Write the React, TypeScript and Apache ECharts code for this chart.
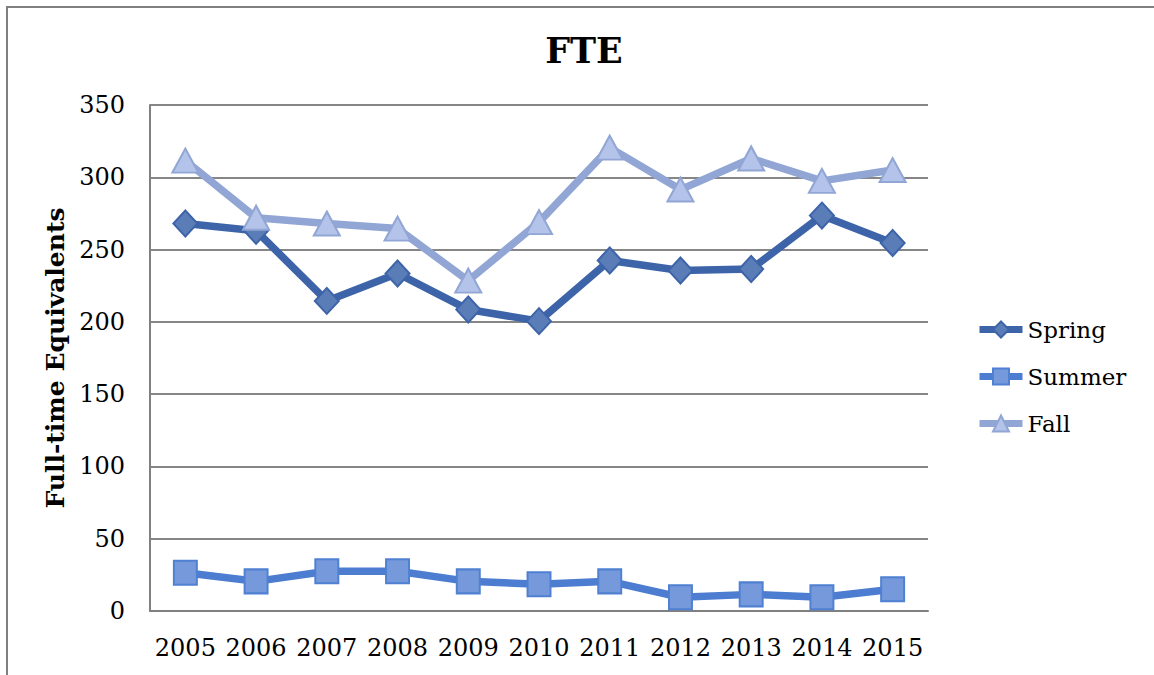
import React, { useEffect, useRef } from "react";
import * as echarts from "echarts";

const categories = ["2005", "2006", "2007", "2008", "2009", "2010", "2011", "2012", "2013", "2014", "2015"];
const springValues = [268, 263, 214.5, 233.5, 208.5, 200.5, 242.5, 235.5, 236.5, 273.5, 254.5];
const summerValues = [26.5, 20.5, 27.5, 27.5, 20.5, 18.5, 20.5, 9.5, 11.5, 9.5, 15];
const fallValues = [311.5, 272, 268, 264.5, 228.5, 269, 320.5, 291.5, 313, 297.5, 305];

const FONT = "DejaVu Serif";

const springColor = "#3D64A9";
const summerColor = "#4C7DD0";
const fallColor = "#91A6D4";

export default function App() {
  const ref = useRef<HTMLDivElement>(null);
  useEffect(() => {
    if (!ref.current) return;
    const chart = echarts.init(ref.current, undefined, { renderer: "svg" });
    chart.setOption({
      animation: false,
      backgroundColor: "#ffffff",
      textStyle: { fontFamily: FONT, color: "#000" },
      title: {
        text: "FTE",
        left: 579,
        top: 28,
        textAlign: "center",
        textStyle: { fontFamily: FONT, fontWeight: "bold", fontSize: 35, color: "#000" },
      },
      graphic: [
        {
          type: "rect",
          shape: { x: 7, y: 7, width: 1400, height: 1000 },
          style: { fill: "none", stroke: "#7f7f7f", lineWidth: 2 },
          silent: true,
        },
      ],
      legend: {
        orient: "vertical",
        left: 976,
        top: 316,
        padding: 0,
        itemWidth: 43,
        itemHeight: 20,
        itemGap: 20,
        textStyle: { fontFamily: FONT, fontSize: 23, color: "#000", lineHeight: 27 },
        data: [
          { name: "Spring", lineStyle: { width: 7, color: springColor } },
          { name: "Summer", lineStyle: { width: 7, color: summerColor } },
          { name: "Fall", lineStyle: { width: 7, color: fallColor } },
        ],
      },
      grid: { left: 150, top: 105, width: 778, height: 506, containLabel: false },
      xAxis: {
        type: "category",
        data: categories,
        boundaryGap: true,
        axisLine: { show: true, lineStyle: { color: "#808080", width: 2 } },
        axisTick: { show: false },
        axisLabel: { interval: 0, fontFamily: FONT, fontSize: 24, color: "#000", margin: 25 },
        splitLine: { show: false },
      },
      yAxis: {
        type: "value",
        min: 0,
        max: 350,
        interval: 50,
        name: "Full-time Equivalents",
        nameLocation: "middle",
        nameGap: 75,
        nameRotate: 90,
        nameTextStyle: { fontFamily: FONT, fontWeight: "bold", fontSize: 25, color: "#000" },
        axisLine: { show: true, lineStyle: { color: "#808080", width: 2 } },
        axisTick: { show: false },
        axisLabel: { fontFamily: FONT, fontSize: 24, color: "#000", margin: 25 },
        splitLine: { show: true, lineStyle: { color: "#868686", width: 2 } },
      },
      series: [
        {
          name: "Spring",
          type: "line",
          data: springValues,
          symbol: "diamond",
          symbolSize: [24, 26],
          lineStyle: { color: springColor, width: 7.5 },
          itemStyle: { color: "#5B7DB7", borderColor: springColor, borderWidth: 2 },
          z: 3,
        },
        {
          name: "Summer",
          type: "line",
          data: summerValues,
          symbol: "rect",
          symbolSize: [23, 24],
          lineStyle: { color: summerColor, width: 7.5 },
          itemStyle: { color: "#7599DA", borderColor: "#4F80D2", borderWidth: 2 },
          z: 2,
        },
        {
          name: "Fall",
          type: "line",
          data: fallValues,
          symbol: "triangle",
          symbolSize: [26, 24],
          lineStyle: { color: fallColor, width: 7.5 },
          itemStyle: { color: "#B3C3E9", borderColor: fallColor, borderWidth: 2 },
          z: 4,
        },
      ],
    });
    return () => chart.dispose();
  }, []);
  return (
    <div
      ref={ref}
      style={{ position: "fixed", left: 0, top: 0, width: 1154, height: 675 }}
    />
  );
}
